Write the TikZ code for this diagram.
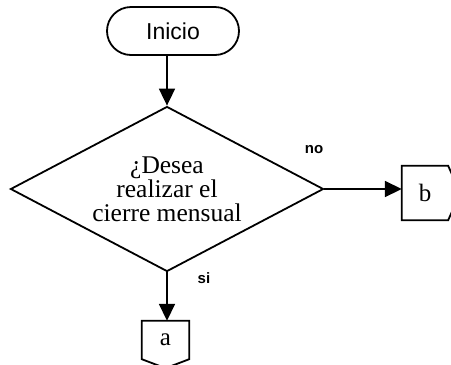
\documentclass[tikz,border=0pt]{standalone}
\usepackage{fontspec}
\setmainfont{Liberation Serif}
\newfontfamily\labelfont{Liberation Sans}
\usepackage{tikz}
\usetikzlibrary{arrows.meta, positioning, shapes.geometric, calc}

\begin{document}
\begin{tikzpicture}[x=1pt, y=-1pt,
    terminal/.style={rectangle, rounded corners=24pt, draw, line width=1.8pt,
                     minimum width=132pt, minimum height=48pt, inner sep=0pt,
                     font=\labelfont\fontsize{23}{23}\selectfont},
    decision/.style={diamond, draw, line width=1.8pt, aspect=1.9, inner sep=0pt,
                     minimum width=313pt, minimum height=165pt, align=center,
                     font=\fontsize{25.5}{24}\selectfont},
    offpage/.style={rectangle, inner sep=0pt, font=\fontsize{25}{25}\selectfont},
    outline/.style={line width=1.8pt, line join=miter},
    arrow/.style={-{Triangle[length=17pt, width=16pt]}, line width=1.8pt},
    branch/.style={font=\labelfont\bfseries\fontsize{15}{15}\selectfont}
  ]
    \useasboundingbox (0,0) rectangle (451,365);

    \node[terminal] (inicio) at (173,31) {Inicio};
    \node[decision] (cierre) at (167,189) {¿Desea\\realizar el\\cierre mensual};
    \node[offpage, minimum width=46pt, minimum height=54pt] (conb) at (425,193) {b};
    \node[offpage, minimum width=47pt, minimum height=38pt] (cona) at (165.5,340) {a};

    % off-page connector outlines
    \draw[outline] (conb.north west) -- (conb.north east) -- ($(conb.east)+(12,0)$)
      -- (conb.south east) -- (conb.south west) -- cycle;
    \draw[outline] (cona.north west) -- (cona.north east) -- (cona.south east)
      -- ($(cona.south)+(0,9)$) -- (cona.south west) -- cycle;

    \node[branch] (lblno) at (314,150) {no};
    \node[branch] (lblsi) at (204,278) {si};

    \draw[arrow] (cierre.north |- inicio.south) -- (cierre.north);
    \draw[arrow] (cierre.east) -- (cierre.east -| conb.west);
    \draw[arrow] (cierre.south) -- (cierre.south |- cona.north);
\end{tikzpicture}
\end{document}
